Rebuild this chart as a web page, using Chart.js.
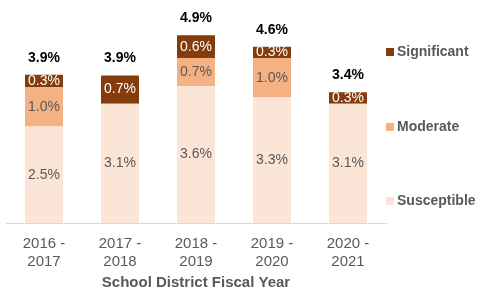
<!DOCTYPE html>
<html lang="en">
<head>
    <meta charset="UTF-8">
    <title>School District Fiscal Year</title>
    <script src="https://cdn.jsdelivr.net/npm/chart.js"></script>
    <style>
        * {
            margin: 0;
            padding: 0;
            box-sizing: border-box;
        }
        body {
            background-color: #ffffff;
        }
        .chart-box {
            width: 478px;
            height: 290px;
        }
    </style>
</head>
<body>
    <div class="chart-box">
        <canvas id="riskChart"></canvas>
    </div>

    <script>
        // data (percent)
        const years = [['2016 -', '2017'], ['2017 -', '2018'], ['2018 -', '2019'], ['2019 -', '2020'], ['2020 -', '2021']];
        const susceptible = [2.54, 3.14, 3.6, 3.3, 3.14];
        const moderate = [1.04, 0, 0.74, 1.04, 0];
        const significant = [0.32, 0.74, 0.6, 0.3, 0.3];

        const seriesNames = ['Susceptible', 'Moderate', 'Significant'];
        const seriesColors = ['#FBE5D6', '#F4B183', '#843C0C'];
        const labelColors = ['#595959', '#595959', '#ffffff'];

        const fontName = "'Liberation Sans', Arial, sans-serif";

        // labels inside each segment and totals above each bar
        const barLabels = {
            id: 'barLabels',
            afterDatasetsDraw(chart) {
                const ctx = chart.ctx;
                ctx.save();
                ctx.textAlign = 'center';
                ctx.textBaseline = 'middle';
                chart.data.datasets.forEach((ds, i) => {
                    const meta = chart.getDatasetMeta(i);
                    meta.data.forEach((bar, j) => {
                        const v = ds.data[j];
                        if (!v) return;
                        ctx.font = '14px ' + fontName;
                        ctx.fillStyle = labelColors[i];
                        ctx.fillText(v.toFixed(1) + '%', bar.x, (bar.y + bar.base) / 2);
                    });
                });
                // totals
                const lastMeta = chart.getDatasetMeta(chart.data.datasets.length - 1);
                ctx.font = 'bold 14px ' + fontName;
                ctx.fillStyle = '#000000';
                lastMeta.data.forEach((bar, j) => {
                    const total = susceptible[j] + moderate[j] + significant[j];
                    ctx.fillText(total.toFixed(1) + '%', bar.x, bar.y - 17);
                });
                ctx.restore();
            }
        };

        // legend on the right, spread out vertically
        const sideLegend = {
            id: 'sideLegend',
            afterDraw(chart) {
                const ctx = chart.ctx;
                const area = chart.chartArea;
                const x = area.right;
                const rows = [52, 127, 201];
                const order = [2, 1, 0];
                ctx.save();
                ctx.font = 'bold 14px ' + fontName;
                ctx.textBaseline = 'middle';
                ctx.textAlign = 'left';
                order.forEach((s, k) => {
                    ctx.fillStyle = seriesColors[s];
                    ctx.fillRect(x, rows[k] - 4, 8, 8);
                    ctx.fillStyle = '#595959';
                    ctx.fillText(seriesNames[s], x + 11, rows[k]);
                });
                ctx.restore();
            }
        };

        window.onload = function() {
            const ctx = document.getElementById('riskChart').getContext('2d');
            new Chart(ctx, {
                type: 'bar',
                data: {
                    labels: years,
                    datasets: [
                        { label: seriesNames[0], data: susceptible, backgroundColor: seriesColors[0] },
                        { label: seriesNames[1], data: moderate, backgroundColor: seriesColors[1] },
                        { label: seriesNames[2], data: significant, backgroundColor: seriesColors[2] }
                    ]
                },
                options: {
                    responsive: true,
                    maintainAspectRatio: false,
                    animation: false,
                    datasets: {
                        bar: {
                            categoryPercentage: 1.0,
                            barPercentage: 0.5
                        }
                    },
                    layout: {
                        padding: { left: 6, right: 92, top: 14, bottom: 0 }
                    },
                    plugins: {
                        legend: { display: false },
                        tooltip: { enabled: false }
                    },
                    scales: {
                        x: {
                            stacked: true,
                            grid: { display: false },
                            border: { color: '#d9d9d9', width: 1 },
                            ticks: {
                                color: '#595959',
                                font: { family: fontName, size: 15, lineHeight: 1.2 },
                                padding: 4,
                                maxRotation: 0
                            },
                            title: {
                                display: true,
                                text: 'School District Fiscal Year',
                                color: '#595959',
                                font: { family: fontName, size: 15, weight: 'bold', lineHeight: 1.0 },
                                padding: { top: 2, bottom: 0 }
                            },
                            afterFit(scale) {
                                scale.height = 67;
                            }
                        },
                        y: {
                            stacked: true,
                            display: false,
                            min: 0,
                            max: 5.5
                        }
                    }
                },
                plugins: [barLabels, sideLegend]
            });
        };
    </script>
</body>
</html>
